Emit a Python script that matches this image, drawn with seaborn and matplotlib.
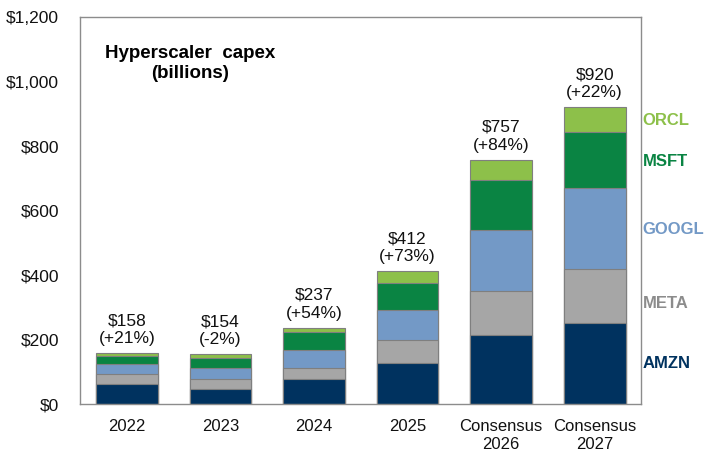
import numpy as np
import pandas as pd
import seaborn as sns
import matplotlib
matplotlib.use('Agg')
import matplotlib.pyplot as plt
from matplotlib.ticker import FuncFormatter


years = ['2022', '2023', '2024', '2025', 'Consensus\n2026', 'Consensus\n2027']

# capex by company, $ billions
amzn = [61, 48, 79, 127, 214, 252]
meta = [32, 29, 34, 71, 136, 166]
googl = [31, 34, 54, 93, 189, 251]
msft = [25, 33, 56, 84, 155, 175]
orcl = [9, 10, 14, 37, 63, 76]

totals = ['$158', '$154', '$237', '$412', '$757', '$920']
growth = ['(+21%)', '(-2%)', '(+54%)', '(+73%)', '(+84%)', '(+22%)']

companies = ['AMZN', 'META', 'GOOGL', 'MSFT', 'ORCL']
colors = ['#00325f', '#a6a6a6', '#7399c6', '#0a8443', '#8dc04a']
label_colors = ['#00325f', '#8c8c8c', '#7399c6', '#0a8443', '#8dc04a']
label_y = [127, 313, 540, 752, 880]

df = pd.DataFrame({'year': years, 'AMZN': amzn, 'META': meta, 'GOOGL': googl,
                   'MSFT': msft, 'ORCL': orcl})
stack = df[companies].cumsum(axis=1)
stack['year'] = df['year']

sns.set_theme(style='white')
plt.rcParams['font.family'] = ['Liberation Sans', 'DejaVu Sans']
plt.rcParams['text.color'] = '#111111'

fig = plt.figure(figsize=(7.23, 4.62), dpi=100)
ax = fig.add_axes([0.1107, 0.1255, 0.7765, 0.8375])

# draw cumulative totals from the top layer down so they stack
for comp, col in zip(companies[::-1], colors[::-1]):
    sns.barplot(data=stack, x='year', y=comp, color=col, ax=ax, width=0.66,
                edgecolor='#7f7f7f', linewidth=0.8, saturation=1)

ax.set_ylim(0, 1200)
ax.set_xlim(-0.5, 5.5)
ax.set_yticks(range(0, 1201, 200))
ax.yaxis.set_major_formatter(FuncFormatter(lambda v, p: f'${v:,.0f}'))
ax.set_xlabel('')
ax.set_ylabel('')
ax.tick_params(axis='both', labelsize=12, length=0, colors='#111111')
ax.tick_params(axis='y', pad=15, labelsize=12.5)
ax.tick_params(axis='x', pad=11)
for lab in ax.get_xticklabels():
    lab.set_linespacing(1.25)

for sp in ax.spines.values():
    sp.set_visible(True)
    sp.set_color('#8c8c8c')
    sp.set_linewidth(1)

top = stack['ORCL'].values
for i, (t, g) in enumerate(zip(totals, growth)):
    ax.annotate(f'{t}\n{g}', (i, top[i]), xytext=(0, 5), textcoords='offset points',
                ha='center', va='bottom', fontsize=12.5, linespacing=1.25)

for comp, col, y in zip(companies, label_colors, label_y):
    ax.text(5.51, y, comp, color=col, fontsize=12, fontweight='bold',
            va='center', ha='left', clip_on=False)

ax.text(0.196, 0.88, 'Hyperscaler  capex\n(billions)', transform=ax.transAxes,
        ha='center', va='center', fontsize=13.5, fontweight='bold',
        linespacing=1.3, color='#000000')

fig.savefig('out.png', dpi=100)
